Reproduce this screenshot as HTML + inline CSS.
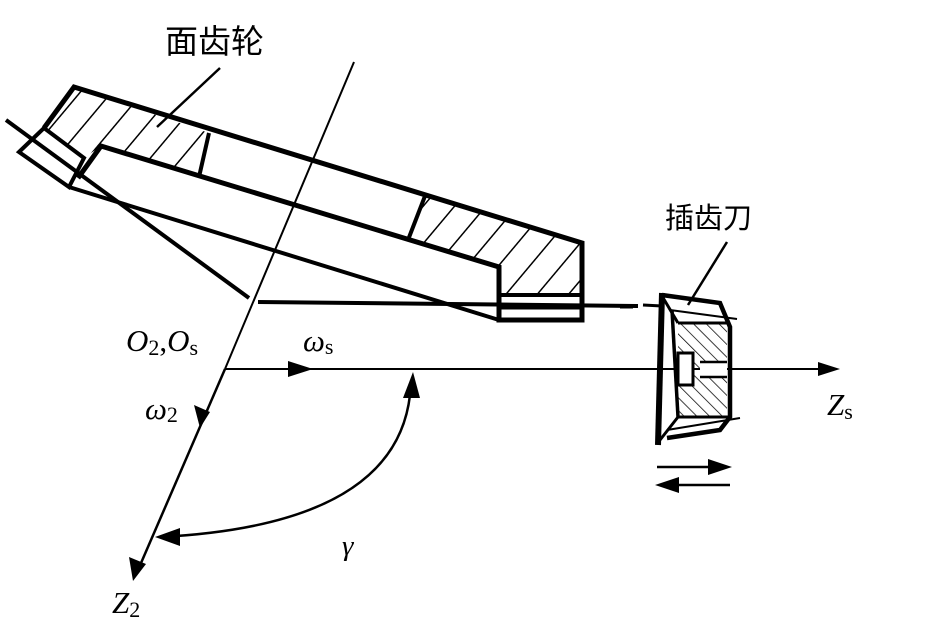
<!DOCTYPE html>
<html><head><meta charset="utf-8"><style>
html,body{margin:0;padding:0;background:#fff}
svg{display:block}
.t{font-family:"Liberation Serif",serif;font-style:italic;fill:#000}
.c{font-family:"Liberation Sans","Noto Sans CJK SC",sans-serif;fill:#000}
</style></head><body>
<svg width="935" height="644" viewBox="0 0 935 644" xmlns="http://www.w3.org/2000/svg">
<defs>
<pattern id="h" patternUnits="userSpaceOnUse" width="24" height="24" patternTransform="rotate(40)">
<line x1="0" y1="0" x2="0" y2="24" stroke="#000" stroke-width="3"/></pattern>
<pattern id="h2" patternUnits="userSpaceOnUse" width="9" height="9" patternTransform="rotate(-45)">
<line x1="0" y1="0" x2="0" y2="9" stroke="#000" stroke-width="1.5"/></pattern>
</defs>
<g fill="none" stroke="#000" stroke-linejoin="miter">
<polygon points="74,87 209,133 199,177 101,146 84,158 44,128" fill="url(#h)" stroke="none"/>
<polygon points="425,196 582,243 582,293 499,293 499,267 408,240" fill="url(#h)" stroke="none"/>
<polyline points="44,128 74,87 582,243 582,320 499,320 499,267 101,146 78,178" stroke-width="5"/>
<line x1="209" y1="133" x2="199" y2="177" stroke-width="4"/>
<line x1="425" y1="196" x2="408" y2="240" stroke-width="4"/>
<polygon points="19,152 44,128 84,158 69,187" stroke-width="4"/>
<line x1="69" y1="187" x2="499" y2="320" stroke-width="4"/>
<line x1="499" y1="295" x2="582" y2="295" stroke-width="4"/>
<line x1="499" y1="308" x2="582" y2="308" stroke-width="3"/>
<line x1="6" y1="120" x2="249" y2="298" stroke-width="4"/>
<line x1="258" y1="302" x2="638" y2="306" stroke-width="4"/>
<line x1="354" y1="62" x2="225" y2="369" stroke-width="2"/>
<line x1="225" y1="369" x2="138" y2="570" stroke-width="2.5"/>
<line x1="225" y1="369" x2="830" y2="369" stroke-width="2"/>
<line x1="220" y1="68" x2="157" y2="127" stroke-width="2.5"/>
<line x1="727" y1="242" x2="688" y2="305" stroke-width="2.5"/>
<path d="M410,395 Q395,525 160,537" stroke-width="2.5"/>
<polygon points="678,323 727,323 727,417 678,417" fill="url(#h2)" stroke="none"/>
<rect x="678" y="353" width="15" height="32" fill="#fff" stroke="#000" stroke-width="3"/>
<rect x="700" y="362" width="27" height="15" fill="#fff" stroke="none"/>
<line x1="700" y1="362" x2="727" y2="362" stroke-width="2.5"/>
<line x1="700" y1="377" x2="727" y2="377" stroke-width="2.5"/>
<line x1="662" y1="293" x2="658" y2="445" stroke-width="6"/>
<polyline points="662,295 720,303 730,327 730,417 720,430 667,438" stroke-width="4.5"/>
<line x1="672" y1="310" x2="678" y2="417" stroke-width="3.5"/>
<line x1="662" y1="296" x2="678" y2="323" stroke-width="3"/>
<line x1="678" y1="323" x2="730" y2="323" stroke-width="3"/>
<line x1="678" y1="417" x2="730" y2="417" stroke-width="3"/>
<line x1="660" y1="440" x2="678" y2="417" stroke-width="3"/>
<line x1="670" y1="310" x2="737" y2="319" stroke-width="2"/>
<line x1="667" y1="430" x2="740" y2="418" stroke-width="2"/>
<line x1="620" y1="307" x2="633" y2="307" stroke-width="3"/>
<line x1="643" y1="305" x2="662" y2="306" stroke-width="3"/>
<line x1="657" y1="467" x2="715" y2="467" stroke-width="2.5"/>
<line x1="670" y1="485" x2="730" y2="485" stroke-width="2.5"/>
</g>
<g fill="#000">
<polygon points="840,369 818,362 818,376"/>
<polygon points="313,369 288,361 288,377"/>
<polygon points="200,428 194,405 210,412"/>
<polygon points="133,581 129,557 146,564"/>
<polygon points="413,372 403,398 420,398"/>
<polygon points="155,537 180,528 180,546"/>
<polygon points="732,467 708,459 708,475"/>
<polygon points="655,485 679,477 679,493"/>
</g>
<text x="165" y="53" class="c" font-size="33">面齿轮</text>
<text x="665" y="228" class="c" font-size="29">插齿刀</text>
<text x="126" y="351" class="t" font-size="31">O<tspan font-size="22" font-style="normal" dy="4">2</tspan><tspan dy="-4" font-style="normal">,</tspan>O<tspan font-size="22" font-style="normal" dy="4">s</tspan></text>
<text x="303" y="351" class="t" font-size="31">ω<tspan font-size="22" font-style="normal" dy="3">s</tspan></text>
<text x="145" y="419" class="t" font-size="31">ω<tspan font-size="22" font-style="normal" dy="3">2</tspan></text>
<text x="827" y="415" class="t" font-size="31">Z<tspan font-size="22" font-style="normal" dy="4">s</tspan></text>
<text x="112" y="613" class="t" font-size="31">Z<tspan font-size="22" font-style="normal" dy="4">2</tspan></text>
<text x="342" y="555" class="t" font-size="29">γ</text>
</svg>
</body></html>
